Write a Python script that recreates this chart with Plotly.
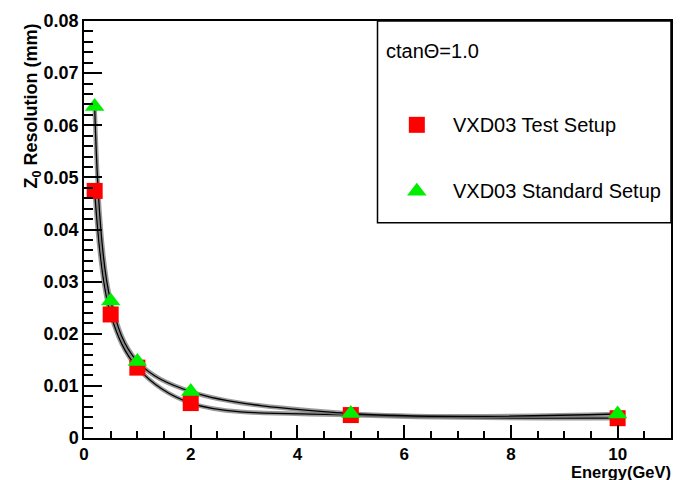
import plotly.graph_objects as go

# Z0 resolution versus track energy, ctan(theta) = 1.0
energy = [0.2, 0.5, 1.0, 2.0, 5.0, 10.0]
res_test = [0.0474, 0.0237, 0.0135, 0.0067, 0.0044, 0.0038]       # VXD03 Test Setup
res_standard = [0.0636, 0.0263, 0.0147, 0.0089, 0.0047, 0.0046]   # VXD03 Standard Setup

x_ticks = [0, 2, 4, 6, 8, 10]
y_ticks = [0, 0.01, 0.02, 0.03, 0.04, 0.05, 0.06, 0.07, 0.08]
y_tick_text = ["0", "0.01", "0.02", "0.03", "0.04", "0.05", "0.06", "0.07", "0.08"]

legend_title = "ctan\u0398=1.0"
name_test = "VXD03 Test Setup"
name_standard = "VXD03 Standard Setup"

FONT = "Liberation Sans, Arial, sans-serif"
RED = "#ff0000"
GREEN = "#00ee00"

fig = go.Figure()

# smooth curves through each series: soft grey body with a dark core
for series in (res_test, res_standard):
    fig.add_trace(go.Scatter(
        x=energy, y=series, mode="lines", line_shape="spline",
        line=dict(color="rgba(120,120,120,0.75)", width=4.5),
        hoverinfo="skip", showlegend=False))
    fig.add_trace(go.Scatter(
        x=energy, y=series, mode="lines", line_shape="spline",
        line=dict(color="black", width=1.3),
        hoverinfo="skip", showlegend=False))

fig.add_trace(go.Scatter(
    x=energy, y=res_test, mode="markers", name=name_test,
    marker=dict(symbol="square", size=16, color=RED, line=dict(width=0)),
    showlegend=False))
fig.add_trace(go.Scatter(
    x=energy, y=res_standard, mode="markers", name=name_standard,
    marker=dict(symbol="triangle-up", size=17, color=GREEN, line=dict(width=0)),
    showlegend=False))

# legend symbols on an invisible overlay in plot-fraction units
fig.add_trace(go.Scatter(
    x=[0.567], y=[0.751], xaxis="x2", yaxis="y2", mode="markers",
    marker=dict(symbol="square", size=16, color=RED, line=dict(width=0)),
    hoverinfo="skip", showlegend=False))
fig.add_trace(go.Scatter(
    x=[0.567], y=[0.592], xaxis="x2", yaxis="y2", mode="markers",
    marker=dict(symbol="triangle-up", size=17, color=GREEN, line=dict(width=0)),
    hoverinfo="skip", showlegend=False))

axis_common = dict(
    showgrid=False, zeroline=False, showline=True, linecolor="black",
    linewidth=1.5, mirror=True, ticks="inside", tickcolor="black",
    tickwidth=1.5,
)

fig.update_layout(
    width=684, height=480,
    margin=dict(l=84, r=11, t=16, b=42),
    paper_bgcolor="white", plot_bgcolor="white",
    showlegend=False,
    xaxis=dict(range=[0, 11], tickvals=x_ticks, ticklen=13,
               tickfont=dict(family=FONT, size=17, color="black", weight="bold"),
               minor=dict(dtick=0.5, tick0=0, ticklen=7, ticks="inside",
                          tickcolor="black", tickwidth=1.5),
               **axis_common),
    yaxis=dict(range=[0, 0.08], tickvals=y_ticks, ticktext=y_tick_text,
               ticklen=18,
               tickfont=dict(family=FONT, size=18, color="black", weight="bold"),
               minor=dict(dtick=0.002, tick0=0, ticklen=9, ticks="inside",
                          tickcolor="black", tickwidth=1.5),
               **axis_common),
    xaxis2=dict(overlaying="x", range=[0, 1], visible=False, anchor="y2"),
    yaxis2=dict(overlaying="y", range=[0, 1], visible=False, anchor="x2"),
)

# legend frame
fig.add_shape(type="rect", xref="paper", yref="paper",
              x0=0.500, x1=1.0, y0=0.516, y1=1.0,
              line=dict(color="black", width=1.5), fillcolor="rgba(0,0,0,0)")

legend_font = dict(family=FONT, size=20, color="black")
fig.add_annotation(text=legend_title, xref="paper", yref="paper",
                   x=0.511, y=0.927, xanchor="left", yanchor="middle",
                   showarrow=False, font=legend_font)
fig.add_annotation(text=name_test, xref="paper", yref="paper",
                   x=0.625, y=0.751, xanchor="left", yanchor="middle",
                   showarrow=False, font=legend_font)
fig.add_annotation(text=name_standard, xref="paper", yref="paper",
                   x=0.625, y=0.592, xanchor="left", yanchor="middle",
                   showarrow=False, font=legend_font)

# axis titles, ROOT style: aligned to the far ends of the axes
fig.add_annotation(text="Z<sub>0</sub> Resolution (mm)", xref="paper", yref="paper",
                   x=-0.087, y=1.0, xanchor="center", yanchor="top",
                   textangle=-90, showarrow=False,
                   font=dict(family=FONT, size=18, color="black", weight="bold"))
fig.add_annotation(text="Energy(GeV)", xref="paper", yref="paper",
                   x=1.004, y=-0.082, xanchor="right", yanchor="middle",
                   showarrow=False,
                   font=dict(family=FONT, size=16.5, color="black", weight="bold"))

fig.write_html("out.html")
